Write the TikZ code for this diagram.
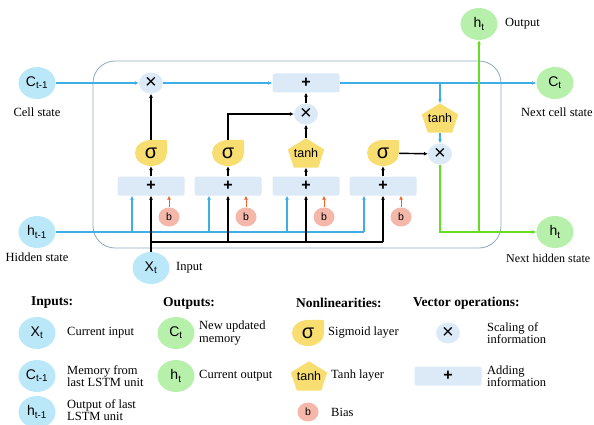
\documentclass[tikz,border=0pt]{standalone}
\usepackage{fontspec}
\setmainfont{Liberation Serif}
\setsansfont{Liberation Sans}
\usetikzlibrary{arrows.meta,shapes.geometric,backgrounds,calc}

\definecolor{inblue}{RGB}{187,232,248}
\definecolor{outgreen}{RGB}{183,240,170}
\definecolor{opblue}{RGB}{220,234,248}
\definecolor{gateyellow}{RGB}{248,221,112}
\definecolor{biaspink}{RGB}{245,183,170}
\definecolor{lineblue}{RGB}{63,174,230}
\definecolor{linegreen}{RGB}{102,221,34}
\definecolor{biasorange}{RGB}{240,100,40}
\definecolor{boxgray}{RGB}{140,170,190}

\begin{document}
\begin{tikzpicture}[x=1pt, y=-1pt,
  >={Latex[length=4pt,width=4pt]},
  every node/.style={inner sep=0pt},
  instate/.style={ellipse, fill=inblue, minimum width=37pt, minimum height=32pt,
    font=\sffamily\fontsize{14}{14}\selectfont},
  outstate/.style={instate, fill=outgreen},
  mulop/.style={ellipse, fill=opblue, minimum width=24pt, minimum height=21pt,
    font=\sffamily\fontsize{20}{20}\selectfont},
  addop/.style={rectangle, rounded corners=2pt, fill=opblue, minimum width=67pt,
    minimum height=19pt, font=\sffamily\bfseries\fontsize{16}{16}\selectfont},
  sigmagate/.style={ellipse, fill=gateyellow, minimum width=32pt, minimum height=26pt,
    font=\sffamily\fontsize{20}{20}\selectfont},
  tanhgate/.style={rectangle, minimum width=36pt, minimum height=29pt,
    font=\sffamily\fontsize{12.5}{12.5}\selectfont},
  bias/.style={ellipse, fill=biaspink, minimum width=21pt, minimum height=19pt,
    font=\sffamily\fontsize{10.5}{10.5}\selectfont},
  caption/.style={font=\fontsize{12.5}{13}\selectfont},
  legend/.style={anchor=west, align=left, font=\fontsize{12.5}{12.5}\selectfont},
  heading/.style={anchor=west, font=\bfseries\fontsize{13.5}{14}\selectfont},
  cline/.style={draw=lineblue, line width=1.2pt},
  gline/.style={draw=linegreen, line width=1.8pt},
  bline/.style={draw=black, line width=1.4pt},
  bialine/.style={draw=biasorange, line width=1pt},
]
\useasboundingbox (0,0) rectangle (594,425);

% the cell
\draw[boxgray, line width=0.8pt, rounded corners=22pt] (93,61) rectangle (501,248);

% states
\node (cprev) [instate] at (37,83) {C\textsubscript{t-1}};
\node (cprevtxt) [caption] at (37,112) {Cell state};
\node (hprev) [instate] at (37,232) {h\textsubscript{t-1}};
\node (hprevtxt) [caption] at (37,257) {Hidden state};
\node (xin) [instate] at (151,268) {X\textsubscript{t}};
\node (xintxt) [caption, anchor=west] at (176,268) {Input};
\node (cnext) [outstate] at (555,83) {C\textsubscript{t}};
\node (cnexttxt) [caption, anchor=west] at (521,112) {Next cell state};
\node (hnext) [outstate] at (555,232) {h\textsubscript{t}};
\node (hnexttxt) [caption, anchor=west, font=\fontsize{12}{12}\selectfont] at (506,258) {Next hidden state};
\node (hout) [outstate] at (479,24) {h\textsubscript{t}};
\node (houttxt) [caption, anchor=west] at (505,24) {Output};

% vector operations
\node (mulf) [mulop] at (151,83) {×};
\node (addc) [addop] at (306,83) {+};
\node (muli) [mulop] at (306,114) {×};
\node (tanhc) [tanhgate] at (440,118) {tanh};
\node (mulo) [mulop] at (440,154) {×};

% gates
\node (gf) [sigmagate] at (151,153) {σ};
\node (gi) [sigmagate] at (228,153) {σ};
\node (gc) [tanhgate] at (306,153) {tanh};
\node (go) [sigmagate] at (383,153) {σ};
\node (sf) [addop] at (151,186) {+};
\node (si) [addop] at (228,186) {+};
\node (sc) [addop] at (306,186) {+};
\node (so) [addop] at (383,186) {+};
\node (bf) [bias] at (169,217) {b};
\node (bi) [bias] at (246,217) {b};
\node (bc) [bias] at (324,217) {b};
\node (bo) [bias] at (401,217) {b};
\coordinate (xbus) at (151,242);

% legend
\node (hdin) [heading] at (31,303) {Inputs:};
\node (lx) [instate] at (37,333) {X\textsubscript{t}};
\node (tx) [legend] at (67,333) {Current input};
\node (lc) [instate] at (37,376) {C\textsubscript{t-1}};
\node (tc) [legend] at (67,376) {Memory from\\last LSTM unit};
\node (lh) [instate] at (37,412) {h\textsubscript{t-1}};
\node (th) [legend] at (67,410) {Output of last\\LSTM unit};
\node (hdout) [heading] at (163,303) {Outputs:};
\node (lcn) [outstate] at (176,333) {C\textsubscript{t}};
\node (tcn) [legend] at (199,333) {New updated\\memory};
\node (lhn) [outstate] at (176,376) {h\textsubscript{t}};
\node (thn) [legend] at (199,376) {Current output};
\node (hdnl) [heading] at (296,303) {Nonlinearities:};
\node (lsig) [sigmagate] at (308,333) {σ};
\node (tsig) [legend] at (328,333) {Sigmoid layer};
\node (ltanh) [tanhgate] at (309,376) {tanh};
\node (ttanh) [legend] at (331,376) {Tanh layer};
\node (lb) [bias] at (308,412) {b};
\node (tb) [legend] at (331,412) {Bias};
\node (hdvo) [heading] at (413,303) {Vector operations:};
\node (lmul) [mulop] at (448,333) {×};
\node (tmul) [legend] at (487,333) {Scaling of\\information};
\node (ladd) [addop] at (448,376) {+};
\node (tadd) [legend] at (487,376) {Adding\\information};

% sigmoid drops and tanh pentagons
\begin{scope}[on background layer]
\foreach \g in {gf,gi,go,lsig}
  \fill[gateyellow, rounded corners=2pt] (\g.center) rectangle (\g.north -| \g.east);
\foreach \g in {gc,tanhc,ltanh}
  \fill[gateyellow] (\g.north) -- ($(\g.north east)!0.38!(\g.south east)$)
    -- ([xshift=-6pt]\g.south east) -- ([xshift=6pt]\g.south west)
    -- ($(\g.north west)!0.38!(\g.south west)$) -- cycle;
\end{scope}

% cell state
\draw[cline,->] (cprev) -- (mulf);
\draw[cline,->] (mulf) -- (addc);
\draw[cline,->] (addc) -- (cnext);
\draw[cline,->] (tanhc |- addc) -- (tanhc);
\draw[cline,->] (tanhc) -- (mulo);

% hidden state
\draw[cline] (hprev) -- ([xshift=-19pt]so.south |- hprev);
\draw[cline,->] ([xshift=-19pt]sf.south |- hprev) -- ([xshift=-19pt]sf.south);
\draw[cline,->] ([xshift=-19pt]si.south |- hprev) -- ([xshift=-19pt]si.south);
\draw[cline,->] ([xshift=-19pt]sc.south |- hprev) -- ([xshift=-19pt]sc.south);
\draw[cline,->] ([xshift=-19pt]so.south |- hprev) -- ([xshift=-19pt]so.south);

% input
\draw[bline,->] (xin) -- (sf);
\draw[bline] (xbus) -- (so.south |- xbus);
\draw[bline,->] (si.south |- xbus) -- (si);
\draw[bline,->] (sc.south |- xbus) -- (sc);
\draw[bline,->] (so.south |- xbus) -- (so);

% bias
\draw[bialine,->] (bf) -- (bf |- sf.south);
\draw[bialine,->] (bi) -- (bi |- si.south);
\draw[bialine,->] (bc) -- (bc |- sc.south);
\draw[bialine,->] (bo) -- (bo |- so.south);

% gates
\draw[bline,->] (sf) -- (gf);
\draw[bline,->] (si) -- (gi);
\draw[bline,->] (sc) -- (gc);
\draw[bline,->] (so) -- (go);
\draw[bline,->] (gf) -- (mulf);
\draw[bline,->] (gi) |- (muli);
\draw[bline,->] (gc) -- (muli);
\draw[bline,->] (muli) -- (addc);
\draw[bline,->] (go) -- (mulo);

% output
\draw[gline,->] (mulo) |- (hnext);
\draw[gline,->] (hout |- hnext) -- (hout);

\end{tikzpicture}
\end{document}
